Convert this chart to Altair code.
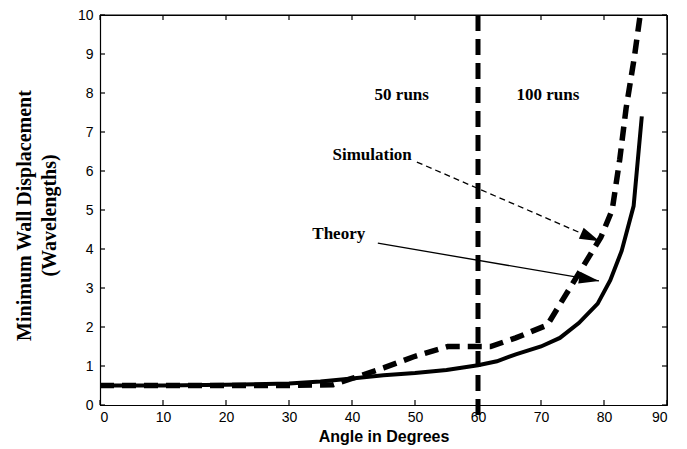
import altair as alt
import pandas as pd

# ---- data ----
theory_x = [0, 10, 20, 30, 35, 40, 45, 50, 55, 60, 63, 66, 70, 73, 76, 79, 81, 82.8, 84.7, 86]
theory_y = [0.5, 0.5, 0.52, 0.55, 0.6, 0.68, 0.76, 0.82, 0.9, 1.02, 1.12, 1.3, 1.5, 1.72, 2.1, 2.6, 3.2, 3.95, 5.1, 7.4]

sim_x = [0, 10, 20, 30, 37, 40, 45, 50, 55.2, 62, 66, 71, 79.5, 81.3, 82.5, 83.5, 84.8, 86]
sim_y = [0.5, 0.5, 0.5, 0.5, 0.52, 0.68, 0.95, 1.25, 1.5, 1.5, 1.72, 2.05, 4.3, 5.0, 6.3, 7.6, 8.9, 10.3]

x_ticks = [0, 10, 20, 30, 40, 50, 60, 70, 80, 90]
y_ticks = [0, 1, 2, 3, 4, 5, 6, 7, 8, 9, 10]

split_x = [60]
split_y = [10]
split_y2 = [-0.45]

label_text = ["50 runs", "100 runs"]
label_x = [47.9, 71.1]
label_y = [7.94, 7.94]

legend_text = ["Simulation", "Theory"]
legend_x = [36.9, 33.7]
legend_y = [6.4, 4.38]

arrow_name = ["Simulation", "Theory"]
arrow_x0 = [50.3, 44.1]
arrow_y0 = [6.23, 4.15]
arrow_x1 = [79.3, 79.2]
arrow_y1 = [4.2, 3.18]
arrow_angle = [23.6, 9.8]

W, H = 567, 390
X0, X1 = x_ticks[0], x_ticks[-1]
Y0, Y1 = y_ticks[0], y_ticks[-1]
xs = alt.Scale(domain=[X0, X1], nice=False, zero=False)
ys = alt.Scale(domain=[Y0, Y1], nice=False, zero=False)

theory = pd.DataFrame({"x": theory_x, "y": theory_y})
sim = pd.DataFrame({"x": sim_x, "y": sim_y})
xt = pd.DataFrame({"v": x_ticks})
yt = pd.DataFrame({"v": y_ticks})
split = pd.DataFrame({"x": split_x, "y": split_y, "y2": split_y2})
labels = pd.DataFrame({"t": label_text, "x": label_x, "y": label_y})
legends = pd.DataFrame({"t": legend_text, "x": legend_x, "y": legend_y})
arrows = pd.DataFrame({"name": arrow_name, "x0": arrow_x0, "y0": arrow_y0,
                       "x1": arrow_x1, "y1": arrow_y1, "ang": arrow_angle})
frame = pd.DataFrame({"xa": [X0], "xb": [X1], "ya": [Y0], "yb": [Y1]})

x_axis = alt.Axis(values=x_ticks, tickSize=0, domain=True, domainColor="black", domainWidth=1.2,
                  grid=False, labelOverlap=False,
                  labelFont="Liberation Sans", labelFontSize=14, labelColor="black",
                  labelPadding=5, title="Angle in Degrees", titleFont="Liberation Sans",
                  titleFontSize=16, titleFontWeight="bold", titleColor="black",
                  titleX=W / 2, titleY=23, titleBaseline="top")
y_axis = alt.Axis(values=y_ticks, tickSize=0, domain=True, domainColor="black", domainWidth=1.2,
                  grid=False, labelOverlap=False,
                  labelFont="Liberation Sans", labelFontSize=14, labelColor="black",
                  labelPadding=7, title=["Minimum Wall Displacement", "(Wavelengths)"],
                  titleFont="Liberation Serif", titleFontSize=20, titleFontWeight="bold",
                  titleColor="black", titleLineHeight=25, titleX=-66, titleY=200,
                  titleAngle=270, titleAlign="center", titleBaseline="bottom")


def X(f):
    return alt.X(f, type="quantitative", scale=xs, axis=x_axis)


def Y(f):
    return alt.Y(f, type="quantitative", scale=ys, axis=y_axis)


theory_line = alt.Chart(theory).mark_line(color="black", strokeWidth=4, clip=True).encode(
    x=X("x"), y=Y("y"))

sim_line = alt.Chart(sim).mark_line(color="black", strokeWidth=5.5, strokeDash=[14, 8],
                                    clip=True).encode(x=X("x"), y=Y("y"))

split_line = alt.Chart(split).mark_rule(color="black", strokeWidth=5, strokeDash=[16, 8]).encode(
    x=X("x"), y=Y("y"), y2="y2:Q")

top_ticks = alt.Chart(xt).mark_rule(color="black", strokeWidth=1.2).encode(
    x=X("v"), y=alt.value(0), y2=alt.value(5))
bot_ticks = alt.Chart(xt).mark_rule(color="black", strokeWidth=1.2).encode(
    x=X("v"), y=alt.value(H), y2=alt.value(H - 5))
left_ticks = alt.Chart(yt).mark_rule(color="black", strokeWidth=1.2).encode(
    y=Y("v"), x=alt.value(0), x2=alt.value(5))
right_ticks = alt.Chart(yt).mark_rule(color="black", strokeWidth=1.2).encode(
    y=Y("v"), x=alt.value(W), x2=alt.value(W - 5))

fb = alt.Chart(frame).mark_rule(color="black", strokeWidth=1.2)
frame_top = fb.encode(x=X("xa"), x2="xb:Q", y=Y("yb"))
frame_right = fb.encode(x=X("xb"), y=Y("ya"), y2="yb:Q")

run_text = alt.Chart(labels).mark_text(font="Liberation Serif", fontSize=17, fontWeight="bold",
                                       color="black", align="center", baseline="middle").encode(
    x=X("x"), y=Y("y"), text="t:N")

leg_text = alt.Chart(legends).mark_text(font="Liberation Serif", fontSize=17, fontWeight="bold",
                                        color="black", align="left", baseline="middle").encode(
    x=X("x"), y=Y("y"), text="t:N")

sim_arrow = alt.Chart(arrows[arrows.name == "Simulation"]).mark_rule(
    color="black", strokeWidth=1.3, strokeDash=[6, 4]).encode(
    x=X("x0"), y=Y("y0"), x2="x1:Q", y2="y1:Q")
th_arrow = alt.Chart(arrows[arrows.name == "Theory"]).mark_rule(
    color="black", strokeWidth=1.3).encode(
    x=X("x0"), y=Y("y0"), x2="x1:Q", y2="y1:Q")
heads = alt.Chart(arrows).mark_point(shape="M0,0L-2,-0.6L-2,0.6Z", filled=True, color="black",
                                     opacity=1, size=400, strokeWidth=0).encode(
    x=X("x1"), y=Y("y1"), angle=alt.Angle("ang:Q", scale=None))

chart = alt.layer(
    theory_line, sim_line, split_line, top_ticks, bot_ticks, left_ticks, right_ticks,
    frame_top, frame_right,
    run_text, leg_text, sim_arrow, th_arrow, heads
).properties(
    width=W, height=H,
    autosize=alt.AutoSizeParams(type="none"),
    padding={"left": 92, "top": 7, "right": 10, "bottom": 40},
).configure_view(stroke="black", strokeWidth=1).configure_axis(
    labelOverlap=False, grid=False
)

chart.save("out.html", embed_options={"renderer": "svg", "actions": False})
